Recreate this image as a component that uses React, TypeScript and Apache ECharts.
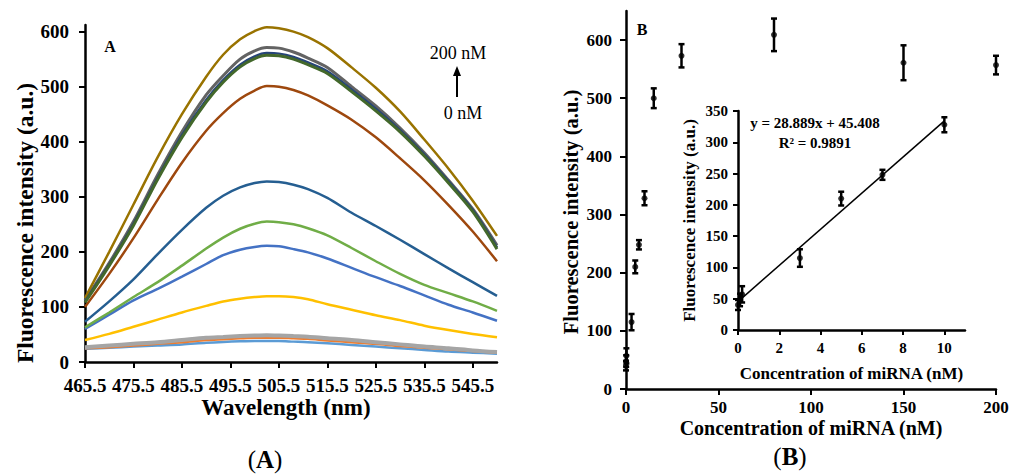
import React, { useEffect, useRef } from "react";
import * as echarts from "echarts";

// ---------- Panel A: fluorescence spectra ----------
const wavelengths = [465.5, 470.5, 475.5, 480.5, 485.5, 490.5, 494, 497.5, 500.5, 503, 505.5, 508.5, 511.5, 515.5, 520.5, 525.5, 530.5, 535.5, 540.5, 545.5, 550.5];
const xTicksA = [465.5, 475.5, 485.5, 495.5, 505.5, 515.5, 525.5, 535.5, 545.5];
const yTicksA = [0, 100, 200, 300, 400, 500, 600];

const spec0 = [24, 26, 28, 30, 32, 35, 36.5, 37.5, 38, 38, 38, 37, 36, 34, 31, 28, 25, 22, 19, 17, 15];
const spec01 = [25, 27, 30, 33, 36, 40, 41.5, 43, 44, 44, 44, 43, 42, 39, 36, 33, 29, 26, 23, 20, 17];
const spec02 = [27, 30, 33, 36, 40, 44, 45.5, 47, 48, 48.5, 48, 47, 46, 43, 40, 36, 32, 28, 25, 21, 18];
const spec3 = [40, 51, 64, 77, 90, 102, 110, 115, 118, 119.5, 119.5, 118, 114, 105, 95, 85, 76, 66, 58, 51, 45];
const spec5 = [60, 86, 112, 133, 155, 178, 194, 204, 209, 211, 210, 205, 199, 188, 171, 154, 138, 121, 104, 90, 75];
const spec7 = [63, 90, 118, 145, 175, 206, 226, 242, 251, 255, 254, 250, 243, 230, 207, 183, 160, 140, 125, 110, 93];
const spec10 = [73, 110, 150, 196, 240, 280, 302, 317, 325, 328, 327, 322, 314, 298, 271, 247, 222, 196, 170, 145, 120];
const spec15 = [100, 160, 225, 295, 362, 420, 452, 478, 493, 501, 500, 494, 484, 466, 440, 408, 370, 330, 285, 237, 183];
const spec30 = [112, 180, 255, 340, 418, 485, 520, 550, 565, 571, 570, 563, 552, 535, 500, 465, 425, 380, 330, 278, 212];
const spec80 = [116, 200, 286, 372, 450, 518, 558, 586, 601, 608, 606, 600, 590, 570, 535, 498, 455, 404, 351, 293, 229];
const spec150 = [110, 177, 251, 335, 412, 476, 512, 540, 555, 561, 560, 554, 544, 528, 495, 460, 421, 377, 328, 276, 208];
const spec200 = [108, 175, 248, 332, 408, 472, 508, 536, 551, 557, 556, 550, 540, 524, 491, 456, 418, 374, 325, 273, 205];

const spectraNames = ["0 nM", "0.1 nM", "0.2 nM", "3 nM", "5 nM", "7 nM", "10 nM", "15 nM", "30 nM", "80 nM", "150 nM", "200 nM"];
const spectraValues = [spec0, spec01, spec02, spec3, spec5, spec7, spec10, spec15, spec30, spec80, spec150, spec200];
const spectraColors = ["#5B9BD5", "#ED7D31", "#A5A5A5", "#FFC000", "#4472C4", "#70AD47", "#255E91", "#9E480E", "#636363", "#997300", "#264478", "#43682B"];
const spectraWidths = [2.5, 2.5, 4, 2.5, 2.5, 2.5, 2.5, 2.5, 3, 2.5, 2.5, 3];

// ---------- Panel B: calibration ----------
const concB = [0, 0.1, 0.2, 3, 5, 7, 10, 15, 30, 80, 150, 200];
const fluoB = [40, 48, 57, 115, 210, 248, 328, 500, 573, 609, 561, 557];
const errB = [8, 10, 13, 14, 11, 8, 12, 17, 20, 28, 30, 16];
const xTicksB = [0, 50, 100, 150, 200];
const yTicksB = [0, 100, 200, 300, 400, 500, 600];

// ---------- Inset ----------
const insetMaxConc = 10;
const xTicksInset = [0, 2, 4, 6, 8, 10];
const yTicksInset = [0, 50, 100, 150, 200, 250, 300, 350];
const fitSlope = 28.889;
const fitIntercept = 45.408;
const fitR2 = 0.9891;
const fitRange = [0, 10];

const FONT = '"Liberation Serif", "Times New Roman", serif';

function errorBarRender(params: any, api: any) {
  const x = api.value(0);
  const y = api.value(1);
  const e = api.value(2);
  const top = api.coord([x, y + e]);
  const bot = api.coord([x, y - e]);
  const cw = 3;
  const st = { stroke: "#000", lineWidth: 2.5 };
  return {
    type: "group",
    children: [
      { type: "line", shape: { x1: top[0], y1: top[1], x2: bot[0], y2: bot[1] }, style: st },
      { type: "line", shape: { x1: top[0] - cw, y1: top[1], x2: top[0] + cw, y2: top[1] }, style: st },
      { type: "line", shape: { x1: bot[0] - cw, y1: bot[1], x2: bot[0] + cw, y2: bot[1] }, style: st },
    ],
  };
}

function axisCommon(labelSize: number, margin: number, tickLen: number, custom: number[]) {
  return {
    nameMoveOverlap: false,
    axisLine: { show: true, onZero: false, lineStyle: { color: "#000", width: 2.5 } },
    axisTick: { show: true, inside: false, length: tickLen, customValues: custom, lineStyle: { color: "#000", width: 2 } },
    axisLabel: {
      show: true,
      customValues: custom,
      color: "#000",
      fontFamily: FONT,
      fontWeight: "bold",
      fontSize: labelSize,
      margin,
    },
    splitLine: { show: false },
  };
}

function nameStyle(size: number) {
  return { color: "#000", fontFamily: FONT, fontWeight: "bold", fontSize: size };
}

function txt(text: string, x: number, y: number, size: number, weight: string, rotation = 0) {
  return {
    type: "text",
    x,
    y,
    rotation,
    style: {
      text,
      fill: "#000",
      fontFamily: FONT,
      fontSize: size,
      fontWeight: weight,
      align: "center",
      verticalAlign: "middle",
      textAlign: "center",
      textVerticalAlign: "middle",
    },
  };
}

function panelLabel(letter: string, x: number, y: number) {
  return {
    type: "text",
    x,
    y,
    style: {
      text: `{p|(}{b|${letter}}{p|)}`,
      align: "center",
      verticalAlign: "middle",
      rich: {
        p: { fontFamily: FONT, fontSize: 25, fontWeight: "normal", fill: "#000" },
        b: { fontFamily: FONT, fontSize: 25, fontWeight: "bold", fill: "#000" },
      },
    },
  };
}

export default function App() {
  const ref = useRef<HTMLDivElement>(null);

  useEffect(() => {
    if (!ref.current) return;
    const chart = echarts.init(ref.current, null, { renderer: "svg" });

    const spectraSeries = spectraValues.map((vals, i) => ({
      name: spectraNames[i],
      type: "line",
      xAxisIndex: 0,
      yAxisIndex: 0,
      smooth: 0.3,
      showSymbol: false,
      symbol: "none",
      silent: true,
      lineStyle: { color: spectraColors[i], width: spectraWidths[i] },
      itemStyle: { color: spectraColors[i] },
      data: wavelengths.map((w, j) => [w, vals[j]]),
    }));

    const pointsB = concB.map((c, i) => [c, fluoB[i], errB[i]]);
    const pointsInset = pointsB.filter((p) => p[0] <= insetMaxConc);
    const fitData = fitRange.map((x) => [x, fitSlope * x + fitIntercept]);

    const option: any = {
      animation: false,
      backgroundColor: "#fff",
      grid: [
        { left: 85, top: 25, width: 412, height: 337 },
        { left: 626, top: 11, width: 370, height: 378 },
        { left: 738, top: 111, width: 227, height: 219 },
      ],
      xAxis: [
        {
          gridIndex: 0,
          type: "value",
          min: 465.5,
          max: 550.5,
          ...axisCommon(19, 14, 6, xTicksA),
        },
        {
          gridIndex: 1,
          type: "value",
          min: 0,
          max: 200,
          ...axisCommon(17, 10, 6, xTicksB),
          name: "Concentration of miRNA (nM)",
          nameLocation: "middle",
          nameGap: 29,
          nameTextStyle: nameStyle(20),
        },
        {
          gridIndex: 2,
          type: "value",
          min: 0,
          max: 11,
          ...axisCommon(15, 10, 5, xTicksInset),
          name: "Concentration of miRNA (nM)",
          nameLocation: "middle",
          nameGap: 35,
          nameTextStyle: nameStyle(17),
        },
      ],
      yAxis: [
        {
          gridIndex: 0,
          type: "value",
          min: 0,
          max: 612,
          ...axisCommon(19, 16, 6, yTicksA),
        },
        {
          gridIndex: 1,
          type: "value",
          min: 0,
          max: 650,
          ...axisCommon(17, 14, 6, yTicksB),
        },
        {
          gridIndex: 2,
          type: "value",
          min: 0,
          max: 350,
          interval: 50,
          ...axisCommon(15, 10, 5, yTicksInset),
          name: "Fluorescence intensity (a.u.)",
          nameLocation: "middle",
          nameGap: 40,
          nameTextStyle: nameStyle(17),
        },
      ],
      series: [
        ...spectraSeries,
        {
          type: "custom",
          xAxisIndex: 1,
          yAxisIndex: 1,
          renderItem: errorBarRender,
          encode: { x: 0, y: 1 },
          data: pointsB,
          silent: true,
        },
        {
          type: "scatter",
          xAxisIndex: 1,
          yAxisIndex: 1,
          symbol: "circle",
          symbolSize: 6,
          itemStyle: { color: "#000" },
          data: pointsB.map((p) => [p[0], p[1]]),
          silent: true,
        },
        {
          type: "line",
          xAxisIndex: 2,
          yAxisIndex: 2,
          symbol: "none",
          lineStyle: { color: "#000", width: 1.5 },
          data: fitData,
          silent: true,
        },
        {
          type: "custom",
          xAxisIndex: 2,
          yAxisIndex: 2,
          renderItem: errorBarRender,
          encode: { x: 0, y: 1 },
          data: pointsInset,
          silent: true,
        },
        {
          type: "scatter",
          xAxisIndex: 2,
          yAxisIndex: 2,
          symbol: "circle",
          symbolSize: 6,
          itemStyle: { color: "#000" },
          data: pointsInset.map((p) => [p[0], p[1]]),
          silent: true,
        },
      ],
      graphic: [
        txt("Wavelength (nm)", 286, 407, 23, "bold"),
        txt("Fluorescence intensity (a.u.)", 25, 223, 23.5, "bold", Math.PI / 2),
        txt("Fluorescence intensity (a.u.)", 571, 212, 20.5, "bold", Math.PI / 2),
        txt("A", 110, 46, 16, "bold"),
        txt("B", 642, 29, 16, "bold"),
        txt("200 nM", 458, 53, 18, "normal"),
        txt("0 nM", 463, 113, 18, "normal"),
        { type: "line", shape: { x1: 457, y1: 97, x2: 457, y2: 74 }, style: { stroke: "#000", lineWidth: 2 } },
        { type: "polygon", shape: { points: [[457, 66], [453, 76], [461, 76]] }, style: { fill: "#000" } },
        panelLabel("A", 265, 459),
        panelLabel("B", 790, 456),
        txt(`y = ${fitSlope}x + ${fitIntercept}`, 815, 123, 15, "bold"),
        txt(`R² = ${fitR2}`, 815, 143, 15, "bold"),
      ],
    };

    chart.setOption(option);
    return () => chart.dispose();
  }, []);

  return (
    <div
      ref={ref}
      style={{ position: "fixed", left: 0, top: 0, width: 1021, height: 474, background: "#fff" }}
    />
  );
}
